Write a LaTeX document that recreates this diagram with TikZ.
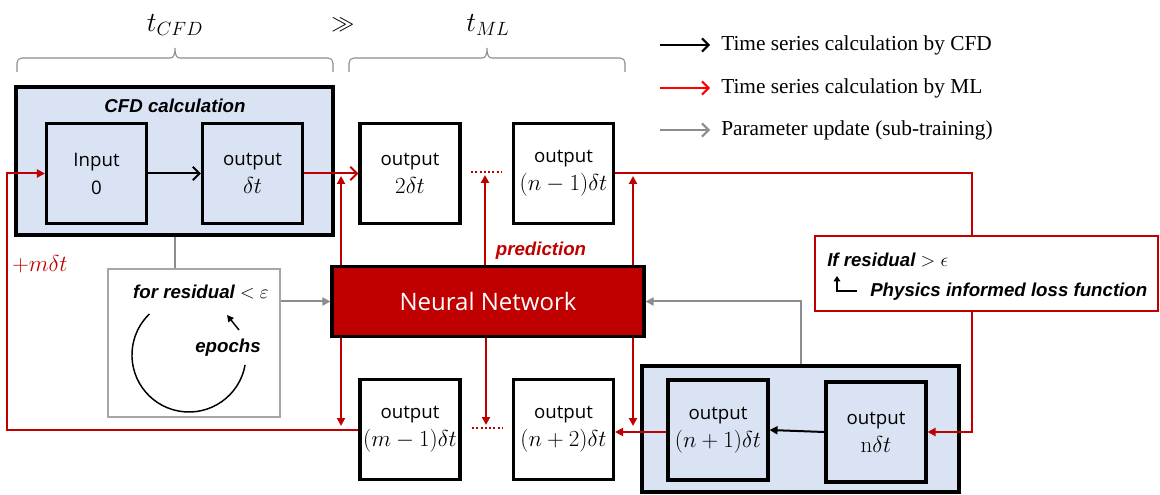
\documentclass[tikz,border=0pt]{standalone}
\usepackage[no-math]{fontspec}
\setmainfont{Liberation Sans}
\newfontfamily\cellfont{Open Sans}
\newfontfamily\legendfont{Liberation Serif}
\usetikzlibrary{arrows.meta}
\definecolor{cfdblue}{HTML}{DAE3F3}
\definecolor{nnred}{HTML}{C00000}
\definecolor{updgray}{HTML}{8C8C8C}
\definecolor{boxgray}{HTML}{A6A6A6}
\newcommand{\cellmath}[1]{{\fontsize{16.5}{20}\selectfont$#1$}}
\tikzset{
  cell/.style={draw=black, line width=2.3pt, minimum width=75pt, minimum height=75pt,
    inner sep=0pt, align=center, fill=white, font=\cellfont\fontsize{14}{21}\selectfont},
  group/.style={draw=black, line width=2.3pt, fill=cfdblue, inner sep=0pt},
  tag/.style={font=\bfseries\itshape\fontsize{14}{16}\selectfont, inner sep=0pt},
  legendtext/.style={font=\legendfont\fontsize{16}{18}\selectfont, inner sep=0pt, anchor=west},
  mlline/.style={draw=nnred, line width=1.5pt},
  mlarrow/.style={mlline, -{Triangle[length=6pt,width=6pt]}},
  mlbarb/.style={mlline, -{Straight Barb[length=5pt,width=10pt]}},
  cfdarrow/.style={draw=black, line width=1.5pt, -{Triangle[length=6pt,width=6pt]}},
  cfdbarb/.style={draw=black, line width=1.5pt, -{Straight Barb[length=5pt,width=10pt]}},
  updline/.style={draw=updgray, line width=1.5pt},
  updarrow/.style={updline, -{Triangle[length=6pt,width=6pt]}},
  dotline/.style={draw=nnred, line width=1.6pt, dash pattern=on 1.6pt off 1.6pt},
  bracegray/.style={draw=updgray, line width=0.8pt},
}
\begin{document}
\begin{tikzpicture}[x=0.75pt,y=-0.75pt]
\useasboundingbox (0,0) rectangle (1160,495);

% time scales
\node[font=\fontsize{20}{24}\selectfont] (tcfd) at (175,25) {$t_{CFD}$};
\node[font=\fontsize{19}{22}\selectfont] (gg) at (343,25) {$\gg$};
\node[font=\fontsize{20}{24}\selectfont] (tml) at (488,25) {$t_{ML}$};
\draw[bracegray] (17,72) -- (17,63) .. controls (17,60) and (19,58) .. (22,58) -- (170,58)
  .. controls (173,58) and (175,56) .. (175,48) .. controls (175,56) and (177,58) .. (180,58)
  -- (328,58) .. controls (331,58) and (333,60) .. (333,63) -- (333,72);
\draw[bracegray] (349,72) -- (349,63) .. controls (349,60) and (351,58) .. (354,58) -- (482,58)
  .. controls (485,58) and (487,56) .. (487,48) .. controls (487,56) and (489,58) .. (492,58)
  -- (620,58) .. controls (623,58) and (625,60) .. (625,63) -- (625,72);

% legend
\coordinate (k1a) at (660,45); \coordinate (k1b) at (710,45);
\coordinate (k2a) at (660,88); \coordinate (k2b) at (710,88);
\coordinate (k3a) at (660,130); \coordinate (k3b) at (710,130);
\draw[cfdbarb] (k1a) -- (k1b);
\draw[draw=red, line width=1.5pt, -{Straight Barb[length=5pt,width=10pt]}] (k2a) -- (k2b);
\draw[draw=updgray, line width=1.5pt, -{Straight Barb[length=5pt,width=10pt]}] (k3a) -- (k3b);
\node[legendtext] (k1) at (721,45) {Time series calculation by CFD};
\node[legendtext] (k2) at (721,88) {Time series calculation by ML};
\node[legendtext] (k3) at (721,130) {Parameter update (sub-training)};

% CFD block (top left)
\node[group, minimum width=237.75pt, minimum height=111pt] (cfd) at (174.5,161) {};
\node[tag] (cfdlab) at (175,106) {CFD calculation};
\node[cell, fill=cfdblue] (in0) at (96.5,173.5) {Input\\0};
\node[cell, fill=cfdblue] (o1) at (252.5,173.5) {output\\\cellmath{\delta t}};

% ML outputs, upper row
\node[cell] (o2) at (410,173.5) {output\\\cellmath{2\delta t}};
\node[cell] (on1) at (563.5,173.5) {output\\\cellmath{(n-1)\delta t}};

% neural network
\node[draw=black, line width=2.3pt, fill=nnred, minimum width=234pt, minimum height=53pt,
  text=white, font=\cellfont\fontsize{18}{20}\selectfont] (nn) at (488,301.5) {Neural Network};
\node[tag, text=nnred] (pred) at (541,251) {prediction};

% sub-training loop
\node[draw=boxgray, line width=1.5pt, fill=white, minimum width=129pt, minimum height=111pt] (ep) at (194,343) {};
\node[tag] (eplab) at (201,292) {for residual $<\varepsilon$};
\node[tag] (epochs) at (228,348) {epochs};
\draw[black, line width=1.1pt] (245.1,364.9) arc[start angle=10, end angle=226, radius=57];
\coordinate (ea) at (239,330); \coordinate (eb) at (227,315);
\draw[black, line width=1.1pt, -{Triangle[length=5pt,width=5pt]}] (ea) -- (eb);

% CFD block (bottom right)
\node[group, minimum width=237.75pt, minimum height=94.5pt] (cfd2) at (800.5,429) {};
\node[cell, fill=cfdblue] (onp1) at (718,430) {output\\\cellmath{(n+1)\delta t}};
\node[cell, fill=cfdblue] (onn) at (876,432) {output\\\cellmath{\mathrm{n}\delta t}};

% ML outputs, lower row
\node[cell] (om1) at (410,429.5) {output\\\cellmath{(m-1)\delta t}};
\node[cell] (on2) at (563.5,429.5) {output\\\cellmath{(n+2)\delta t}};

% CFD steps
\draw[cfdbarb] (in0.east) -- (o1.west);
\draw[cfdarrow] (onn.west) -- (onp1.east);

% ML steps
\draw[mlbarb] (o1.east) -- (o2.west);
\draw[mlarrow] (onp1.west |- 0,432) -- (on2.east |- 0,432);
\coordinate (d1a) at (471,172); \coordinate (d1b) at (502,172);
\coordinate (d2a) at (472,428); \coordinate (d2b) at (502,428);
\draw[dotline] (d1a) -- (d1b);
\draw[dotline] (d2a) -- (d2b);

% predictions from the network
\coordinate (tA) at (341,176); \coordinate (tB) at (485,175); \coordinate (tC) at (633,176);
\coordinate (bA) at (341,426); \coordinate (bB) at (486,425); \coordinate (bC) at (633,426);
\draw[mlarrow] (nn.north -| tA) -- (tA);
\draw[mlarrow] (nn.north -| tB) -- (tB);
\draw[mlarrow] (nn.north -| tC) -- (tC);
\draw[mlarrow] (nn.south -| bA) -- (bA);
\draw[mlarrow] (nn.south -| bB) -- (bB);
\draw[mlarrow] (nn.south -| bC) -- (bC);

% restart loops
\coordinate (rc) at (972,300);
\coordinate (lc) at (7,300);
\draw[mlarrow] (on1.east) -- (on1.east -| rc) -- (rc |- onn.east) -- (onn.east);
\draw[mlarrow] (om1.west) -- (om1.west -| lc) -- (lc |- in0.west) -- (in0.west);
\node[text=nnred, font=\fontsize{16}{18}\selectfont, inner sep=0pt] (mdt) at (40,264) {$+m\delta t$};

% residual check
\node[draw=nnred, line width=1.2pt, fill=white, minimum width=257.25pt, minimum height=56.25pt] (chk) at (986.5,273.5) {};
\node[tag, anchor=west] (chk1) at (827,260) {If residual $>\epsilon$};
\node[tag, anchor=west] (chk2) at (870,292) {Physics informed loss function};
\coordinate (ia) at (857,291); \coordinate (ib) at (837,291); \coordinate (ic) at (837,276);
\draw[black, line width=1.2pt, -{Triangle[length=4pt,width=5pt]}] (ia) -- (ib) -- (ic);

% parameter updates
\coordinate (gc) at (801,330);
\draw[updline] (cfd.south) -- (ep.north -| cfd.south);
\draw[updarrow] (ep.east |- nn.west) -- (nn.west);
\draw[updarrow] (cfd2.north -| gc) -- (gc |- nn.east) -- (nn.east);
\end{tikzpicture}
\end{document}
